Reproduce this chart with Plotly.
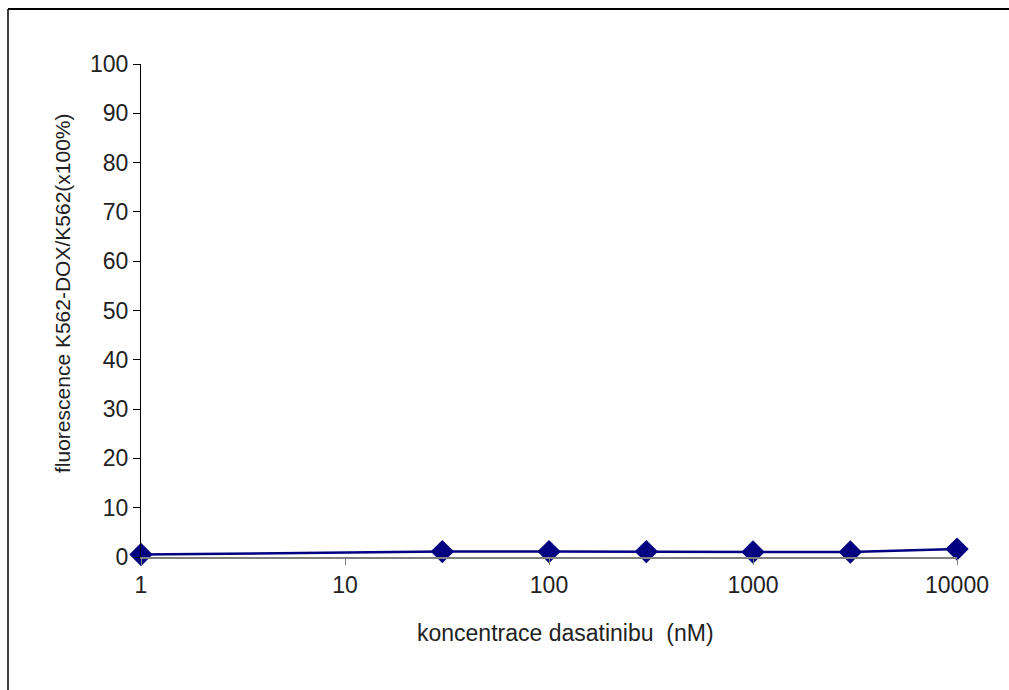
import plotly.graph_objects as go

# Dasatinib concentration (nM) and relative fluorescence K562-DOX / K562 (x100 %)
concentration_nm = [1, 30, 100, 300, 1000, 3000, 10000]
fluorescence = [0.5, 1.1, 1.1, 1.1, 1.0, 1.0, 1.6]

x_tick_vals = [1, 10, 100, 1000, 10000]
x_tick_text = ["1", "10", "100", "1000", "10000"]
y_tick_vals = [0, 10, 20, 30, 40, 50, 60, 70, 80, 90, 100]

x_title = "koncentrace dasatinibu  (nM)"
y_title = "fluorescence K562-DOX/K562(x100%)"

W, H = 1009, 690
M_L, M_R, M_T, M_B = 141, 52, 64, 133
plot_w = W - M_L - M_R
plot_h = H - M_T - M_B


def px_to_paper_x(px):
    return (px - M_L) / plot_w


def px_to_paper_y(py):
    return (H - M_B - py) / plot_h


NAVY = "#000080"
FONT = "Liberation Sans, Arial, sans-serif"
TEXT = "#222222"

fig = go.Figure()
fig.add_trace(go.Scatter(
    x=concentration_nm,
    y=fluorescence,
    mode="lines+markers",
    line=dict(color=NAVY, width=2.5),
    marker=dict(symbol="diamond", size=18, color=NAVY),
    cliponaxis=False,
    showlegend=False,
))

# outer frame (left and top edges of the chart box)
fig.add_shape(type="line", xref="paper", yref="paper",
              x0=px_to_paper_x(8), x1=px_to_paper_x(8),
              y0=px_to_paper_y(9), y1=px_to_paper_y(H + 20),
              line=dict(color="black", width=1.5))
fig.add_shape(type="line", xref="paper", yref="paper",
              x0=px_to_paper_x(8), x1=px_to_paper_x(W + 20),
              y0=px_to_paper_y(9), y1=px_to_paper_y(9),
              line=dict(color="black", width=2))

# axis titles
fig.add_annotation(text=x_title, xref="paper", yref="paper",
                   x=px_to_paper_x(565), y=px_to_paper_y(633),
                   xanchor="center", yanchor="middle", showarrow=False,
                   font=dict(size=23, family=FONT, color=TEXT))
fig.add_annotation(text=y_title, xref="paper", yref="paper",
                   x=px_to_paper_x(62), y=px_to_paper_y(293),
                   xanchor="center", yanchor="middle", showarrow=False,
                   textangle=-90,
                   font=dict(size=21, family=FONT, color=TEXT))

fig.update_layout(
    width=W, height=H,
    margin=dict(l=M_L, r=M_R, t=M_T, b=M_B, pad=0),
    paper_bgcolor="white",
    plot_bgcolor="white",
    font=dict(family=FONT, color=TEXT),
    xaxis=dict(
        type="log",
        range=[0, 4],
        tickvals=x_tick_vals,
        ticktext=x_tick_text,
        ticks="outside", ticklen=6, tickwidth=1, tickcolor="#808080",
        showline=True, linecolor="#808080", linewidth=2,
        showgrid=False, zeroline=False,
        tickfont=dict(size=23, family=FONT, color=TEXT),
    ),
    yaxis=dict(
        range=[0, 100],
        tickvals=y_tick_vals,
        ticks="outside", ticklen=7, tickwidth=1, tickcolor="black",
        showline=True, linecolor="black", linewidth=1,
        showgrid=False, zeroline=False,
        tickfont=dict(size=23, family=FONT, color=TEXT),
    ),
)

fig.write_html("out.html", config={"displayModeBar": False})
